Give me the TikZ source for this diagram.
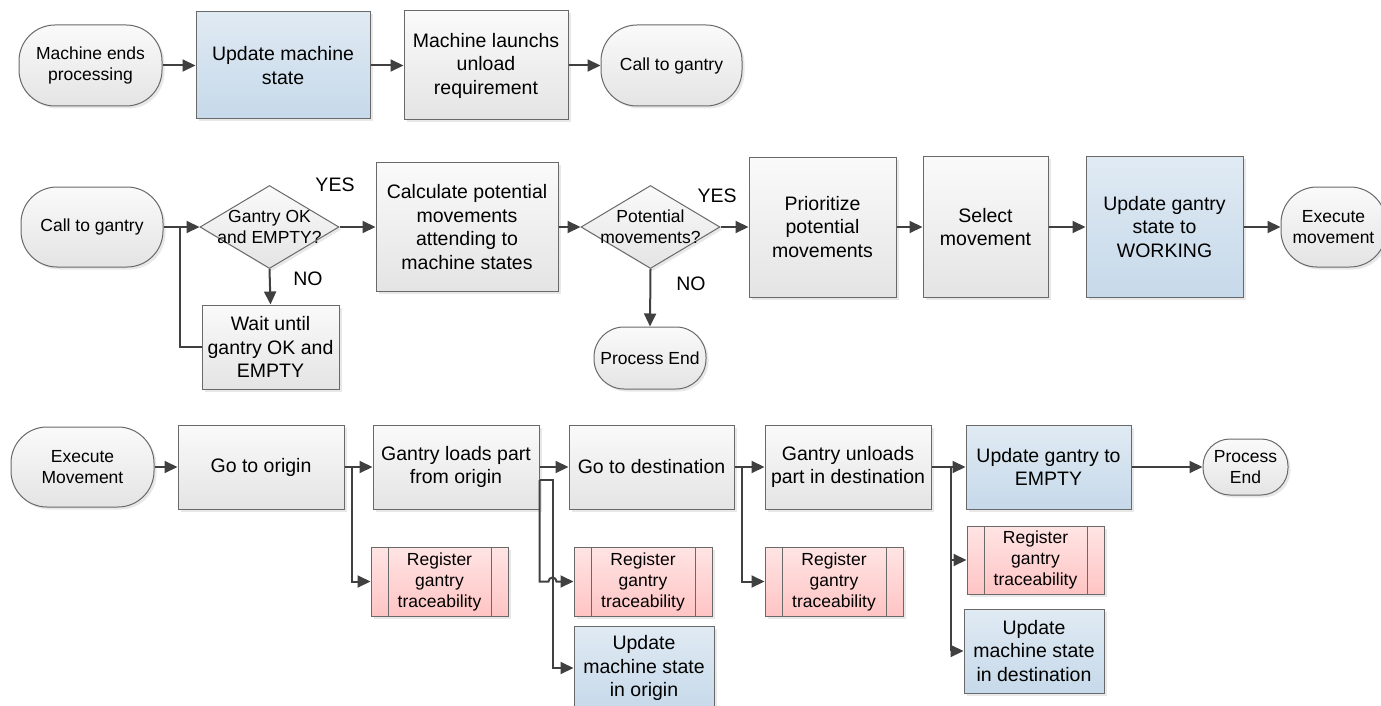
\documentclass[tikz,border=0pt]{standalone}
\usepackage{fontspec}
\setmainfont{Liberation Sans}
\usetikzlibrary{arrows.meta,shapes.geometric,shadows}

\definecolor{edgegray}{RGB}{105,105,105}
\definecolor{linegray}{RGB}{64,64,64}
\definecolor{boxtop}{RGB}{250,250,250}
\definecolor{boxbot}{RGB}{228,228,228}
\definecolor{bluetop}{RGB}{224,234,243}
\definecolor{bluebot}{RGB}{198,217,234}
\definecolor{pinktop}{RGB}{255,228,228}
\definecolor{pinkbot}{RGB}{255,196,196}

\newcommand{\maintxt}{\fontsize{19.5}{23.5}\selectfont}
\newcommand{\smalltxt}{\fontsize{17.5}{21}\selectfont}

\tikzset{
  sz/.style 2 args={minimum width=#1pt, minimum height=#2pt},
  base/.style={draw=edgegray, line width=1pt, align=center, inner sep=0pt,
    font=\maintxt, drop shadow={shadow xshift=2.5pt, shadow yshift=-2.5pt, opacity=0.3, fill=black!30}},
  procbox/.style={base, rectangle, top color=boxtop, bottom color=boxbot},
  bluebox/.style={base, rectangle, top color=bluetop, bottom color=bluebot},
  regbox/.style={base, rectangle, font=\smalltxt, top color=pinktop, bottom color=pinkbot,
    path picture={
      \draw[edgegray, line width=1pt] ([xshift=17pt]path picture bounding box.north west) -- ([xshift=17pt]path picture bounding box.south west);
      \draw[edgegray, line width=1pt] ([xshift=-17pt]path picture bounding box.north east) -- ([xshift=-17pt]path picture bounding box.south east);
    }},
  pill/.style={base, rectangle, rounded corners=36pt, font=\smalltxt, top color=boxtop, bottom color=boxbot},
  decision/.style={base, diamond, top color=boxtop, bottom color=boxbot, sz={139}{83}},
  answer/.style={font=\maintxt, inner sep=0pt},
  link/.style={draw=linegray, line width=2pt},
  flow/.style={link, -{Triangle[length=13pt,width=12pt]}}
}

\begin{document}
\begin{tikzpicture}[x=1pt, y=-1pt]

\useasboundingbox (0,0) rectangle (1381,706);

% Top row
\node[pill, sz={143}{81}] (mend) at (90.5,65.5) {Machine ends\\processing};
\node[bluebox, sz={174}{107}] (updms) at (283,65.5) {Update machine\\state};
\node[procbox, sz={164}{109}] (launch) at (486,65.5) {Machine launchs\\unload\\requirement};
\node[pill, sz={141}{81}] (callA) at (671.5,65.5) {Call to gantry};

\draw[flow] (mend.east) -- (updms.west);
\draw[flow] (updms.east) -- (launch.west);
\draw[flow] (launch.east) -- (callA.west);

% Middle row
\node[pill, sz={142}{80}] (callB) at (92,227) {Call to gantry};
\node[decision, label={[font=\smalltxt, align=center]center:Gantry OK\\and EMPTY?}] (okgan) at (269.5,227) {};
\node[procbox, sz={182}{129}] (calc) at (467,227) {Calculate potential\\movements\\attending to\\machine states};
\node[decision, label={[font=\smalltxt, align=center]center:Potential\\movements?}] (potmov) at (650.5,227) {};
\node[procbox, sz={147}{140}] (prio) at (822.5,227) {Prioritize\\potential\\movements};
\node[procbox, sz={125}{141}] (select) at (985.5,227) {Select\\movement};
\node[bluebox, sz={157}{141}] (working) at (1164.5,227) {Update gantry\\state to\\WORKING};
\node[pill, sz={105}{80}] (execA) at (1333.5,227) {Execute\\movement};
\node[procbox, sz={137}{84}] (wait) at (270.5,347) {Wait until\\gantry OK and\\EMPTY};
\node[pill, sz={112}{62}, rounded corners=30pt] (endA) at (650,358) {Process End};

\node[answer] (yesA) at (335,185) {YES};
\node[answer] (noA) at (308,279) {NO};
\node[answer] (yesB) at (717,196) {YES};
\node[answer] (noB) at (691,284) {NO};

\coordinate (jw) at (180,227);

\draw[flow] (callB.east) -- (okgan.west);
\draw[flow] (okgan.east) -- (calc.west);
\draw[flow] (okgan.south) -- (wait.north);
\draw[link] (wait.west) -| (jw);
\draw[flow] (calc.east) -- (potmov.west);
\draw[flow] (potmov.east) -- (prio.west);
\draw[flow] (potmov.south) -- (endA.north);
\draw[flow] (prio.east) -- (select.west);
\draw[flow] (select.east) -- (working.west);
\draw[flow] (working.east) -- (execA.west);

% Bottom row
\node[pill, sz={143}{80}] (execB) at (82.5,467) {Execute\\Movement};
\node[procbox, sz={166}{84}] (gorig) at (261,467) {Go to origin};
\node[procbox, sz={166}{84}] (gload) at (456,467) {Gantry loads part\\from origin};
\node[procbox, sz={165}{84}] (gdest) at (651.5,467) {Go to destination};
\node[procbox, sz={166}{84}] (gunld) at (848,467) {Gantry unloads\\part in destination};
\node[bluebox, sz={165}{84}] (updempty) at (1048.5,467) {Update gantry to\\EMPTY};
\node[pill, sz={85}{56}, rounded corners=27pt] (endB) at (1245.5,467) {Process\\End};

\node[regbox, sz={137}{69}] (regA) at (439.5,581.5) {Register\\gantry\\traceability};
\node[regbox, sz={138}{69}] (regB) at (643,581.5) {Register\\gantry\\traceability};
\node[regbox, sz={138}{69}] (regC) at (834,581.5) {Register\\gantry\\traceability};
\node[regbox, sz={137}{68}] (regD) at (1035.5,560) {Register\\gantry\\traceability};
\node[bluebox, sz={140}{84}] (updorig) at (644,668) {Update\\machine state\\in origin};
\node[bluebox, sz={140}{84}] (upddest) at (1034,651) {Update\\machine state\\in destination};

\coordinate (jo) at (352,467);
\coordinate (jl) at ([yshift=-13pt]gload.east);
\coordinate (jd) at (742,467);
\coordinate (ju) at (951,467);

\draw[flow] (execB.east) -- (gorig.west);
\draw[flow] (gorig.east) -- (gload.west);
\draw[flow] (jo) |- (regA.west);
\draw[flow] (gload.east) -- (gdest.west);
\draw[flow] (jl) -- ++(13,0) |- (updorig.west);
\draw[flow] (jl) -- (jl |- regB.west) -- ++(9,0) arc[start angle=180, end angle=0, radius=4pt] -- (regB.west);
\draw[flow] (gdest.east) -- (gunld.west);
\draw[flow] (jd) |- (regC.west);
\draw[flow] (gunld.east) -- (updempty.west);
\draw[flow] (ju) |- (regD.west);
\draw[flow] (ju) |- (upddest.west);
\draw[flow] (updempty.east) -- (endB.west);

\end{tikzpicture}
\end{document}
